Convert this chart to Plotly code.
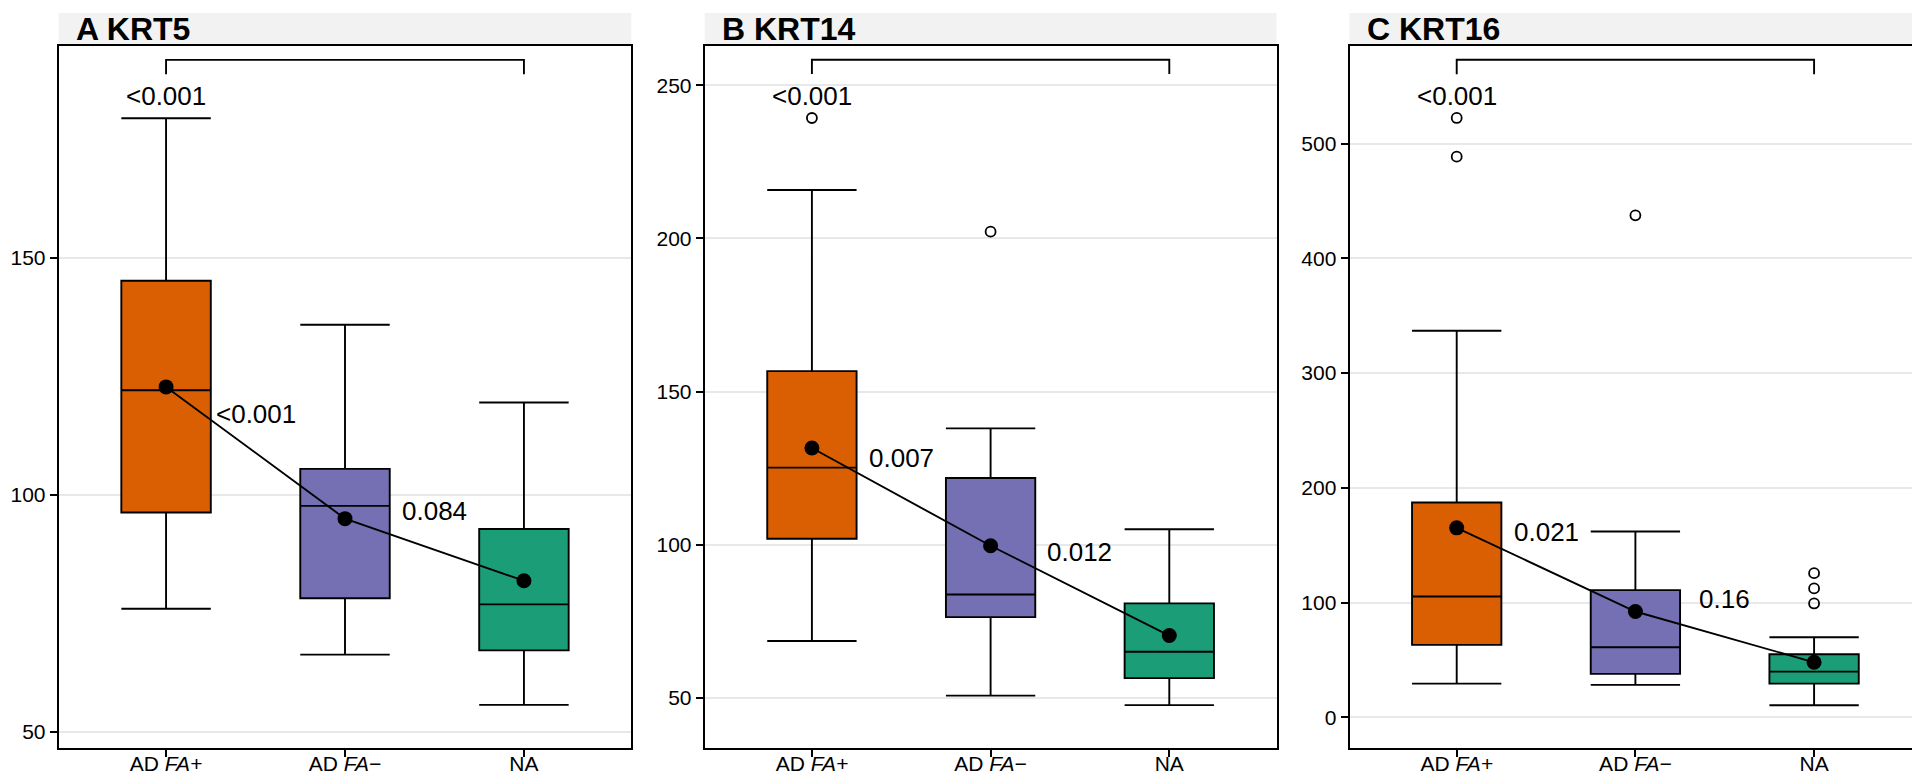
import plotly.graph_objects as go

# ---------------- data ----------------
categories = ["AD <i>FA+</i>", "AD <i>FA−</i>", "NA"]
colors = ["#D95F02", "#7570B3", "#1B9E77"]
panel_titles = ["A KRT5", "B KRT14", "C KRT16"]

# Panel A: KRT5
a_lower = [76.0, 66.3, 55.7]
a_q1 = [96.3, 78.2, 67.2]
a_median = [122.1, 97.7, 76.9]
a_q3 = [145.2, 105.5, 92.8]
a_upper = [179.5, 135.9, 119.5]
a_mean = [122.8, 95.0, 81.9]
a_outliers = [[], [], []]
a_pvals = ["<0.001", "0.084"]
a_pval_y = [117.0, 96.6]
a_top_pval = "<0.001"
a_top_pval_y = 184.2
a_bracket = [188.8, 191.8]
a_range = [46.6, 194.8]
a_ticks = [50, 100, 150]

# Panel B: KRT14
b_lower = [68.6, 50.8, 47.7]
b_q1 = [102.0, 76.4, 56.5]
b_median = [125.2, 83.8, 65.1]
b_q3 = [156.7, 121.8, 80.9]
b_upper = [215.8, 138.0, 105.1]
b_mean = [131.6, 99.7, 70.4]
b_outliers = [[239.3], [202.2], []]
b_pvals = ["0.007", "0.012"]
b_pval_y = [128.2, 97.7]
b_top_pval = "<0.001"
b_top_pval_y = 246.5
b_bracket = [253.7, 258.3]
b_range = [33.7, 262.9]
b_ticks = [50, 100, 150, 200, 250]

# Panel C: KRT16
c_lower = [29.3, 28.2, 10.5]
c_q1 = [63.1, 37.8, 29.3]
c_median = [105.2, 61.0, 39.8]
c_q3 = [187.2, 110.8, 54.9]
c_upper = [336.9, 161.9, 69.7]
c_mean = [165.1, 92.2, 47.9]
c_outliers = [[522.4, 488.7], [437.5], [125.6, 112.3, 99.2]]
c_pvals = ["0.021", "0.16"]
c_pval_y = [161.5, 103.4]
c_top_pval = "<0.001"
c_top_pval_y = 541.5
c_bracket = [560.6, 573.2]
c_range = [-26.8, 585.4]
c_ticks = [0, 100, 200, 300, 400, 500]

panels = [
    dict(lower=a_lower, q1=a_q1, median=a_median, q3=a_q3, upper=a_upper, mean=a_mean,
         outliers=a_outliers, pvals=a_pvals, pval_y=a_pval_y, top=a_top_pval, top_y=a_top_pval_y,
         bracket=a_bracket, yrange=a_range, ticks=a_ticks),
    dict(lower=b_lower, q1=b_q1, median=b_median, q3=b_q3, upper=b_upper, mean=b_mean,
         outliers=b_outliers, pvals=b_pvals, pval_y=b_pval_y, top=b_top_pval, top_y=b_top_pval_y,
         bracket=b_bracket, yrange=b_range, ticks=b_ticks),
    dict(lower=c_lower, q1=c_q1, median=c_median, q3=c_q3, upper=c_upper, mean=c_mean,
         outliers=c_outliers, pvals=c_pvals, pval_y=c_pval_y, top=c_top_pval, top_y=c_top_pval_y,
         bracket=c_bracket, yrange=c_range, ticks=c_ticks),
]

# ---------------- layout geometry ----------------
W, H = 1920, 775
FONT = "Liberation Sans, Arial, Helvetica, sans-serif"
x_px = [(50.7, 623.3), (696.7, 1268.5), (1341.5, 1913.3)]
plot_top_px, plot_bot_px = 37.7, 740.0
strip_top_px = 5.0
ydom = [(H - plot_bot_px) / H, (H - plot_top_px) / H]
LW = 1.9

fig = go.Figure()
shapes = []
annotations = []

for i, p in enumerate(panels):
    sfx = "" if i == 0 else str(i + 1)
    xa, ya = "x" + sfx, "y" + sfx
    # boxes
    for j, cat in enumerate(categories):
        fig.add_trace(go.Box(
            x=[cat], q1=[p["q1"][j]], median=[p["median"][j]], q3=[p["q3"][j]],
            lowerfence=[p["lower"][j]], upperfence=[p["upper"][j]],
            fillcolor=colors[j], line=dict(color="black", width=LW),
            width=0.5, whiskerwidth=1, boxpoints=False,
            xaxis=xa, yaxis=ya, showlegend=False, hoverinfo="skip"))
    # outliers
    ox, oy = [], []
    for j, cat in enumerate(categories):
        for v in p["outliers"][j]:
            ox.append(cat)
            oy.append(v)
    if ox:
        fig.add_trace(go.Scatter(
            x=ox, y=oy, mode="markers",
            marker=dict(symbol="circle-open", size=10, color="black", line=dict(width=1.8)),
            xaxis=xa, yaxis=ya, showlegend=False, hoverinfo="skip"))
    # mean line + dots
    fig.add_trace(go.Scatter(
        x=categories, y=p["mean"], mode="lines+markers",
        line=dict(color="black", width=LW),
        marker=dict(size=15, color="black"),
        xaxis=xa, yaxis=ya, showlegend=False, hoverinfo="skip"))
    # bracket
    lo, hi = p["bracket"]
    fig.add_trace(go.Scatter(
        x=[categories[0], categories[0], categories[2], categories[2]],
        y=[lo, hi, hi, lo], mode="lines",
        line=dict(color="black", width=LW),
        xaxis=xa, yaxis=ya, showlegend=False, hoverinfo="skip"))
    # p-value labels
    annotations.append(dict(x=0, y=p["top_y"], xref=xa, yref=ya, text=p["top"],
                            showarrow=False, font=dict(size=26, color="black", family=FONT)))
    for k in range(2):
        annotations.append(dict(x=k + 0.5, y=p["pval_y"][k], xref=xa, yref=ya, text=p["pvals"][k],
                                showarrow=False, font=dict(size=26, color="black", family=FONT)))
    # strip
    x0, x1 = x_px[i][0] / W, x_px[i][1] / W
    shapes.append(dict(type="rect", xref="paper", yref="paper", x0=x0, x1=x1,
                       y0=ydom[1], y1=(H - strip_top_px) / H,
                       fillcolor="#F2F2F2", line=dict(width=0), layer="below"))
    annotations.append(dict(x=x0 + 15 / W, y=(H - 21) / H, xref="paper", yref="paper",
                            xanchor="left", yanchor="middle", text="<b>" + panel_titles[i] + "</b>",
                            showarrow=False, font=dict(size=32, color="black", family=FONT)))

    axis_common = dict(showline=True, mirror=True, linecolor="black", linewidth=LW,
                       ticks="outside", ticklen=7, tickwidth=1.7, tickcolor="black")
    fig.layout["xaxis" + sfx] = dict(
        domain=[x0, x1], anchor=ya, type="category", categoryorder="array",
        categoryarray=categories, range=[-0.6, 2.6], showgrid=False, zeroline=False,
        ticklabelstandoff=-11, tickfont=dict(size=21, color="black", family=FONT),
        **axis_common)
    fig.layout["yaxis" + sfx] = dict(
        domain=list(ydom), anchor=xa, range=p["yrange"], tickvals=p["ticks"],
        showgrid=True, gridcolor="#E8E8E8", gridwidth=1.5, zeroline=False,
        tickfont=dict(size=21, color="black", family=FONT),
        **axis_common)

fig.update_layout(
    width=W, height=H, margin=dict(l=0, r=0, t=0, b=0),
    paper_bgcolor="white", plot_bgcolor="white", boxmode="overlay",
    shapes=shapes, annotations=annotations, font=dict(family=FONT, color="black"),
)

fig.write_html("out.html")
